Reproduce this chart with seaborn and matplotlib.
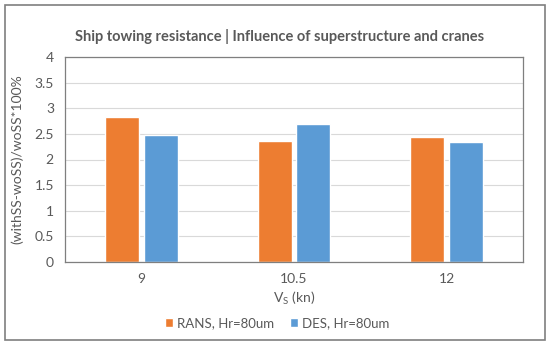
import pandas as pd
import numpy as np
import matplotlib.pyplot as plt
import seaborn as sns
from matplotlib.patches import Rectangle

# values
speeds = ['9', '10.5', '12']
rans = [2.82, 2.37, 2.43]
des = [2.48, 2.70, 2.34]
series_names = ['RANS, Hr=80um', 'DES, Hr=80um']
yticks = [0, 0.5, 1, 1.5, 2, 2.5, 3, 3.5, 4]

df = pd.DataFrame({
    'Vs': speeds * 2,
    'value': rans + des,
    'series': [series_names[0]] * 3 + [series_names[1]] * 3,
})

sns.set_style('white')
plt.rcParams['font.family'] = ['Lato', 'DejaVu Sans']
txt = '#595959'

fig = plt.figure(figsize=(5.5, 3.46), dpi=100)
ax = fig.add_axes([65 / 550, 1 - 262 / 346, 458 / 550, 205 / 346])

sns.barplot(data=df, x='Vs', y='value', hue='series', order=speeds,
            hue_order=series_names, palette=['#ED7D31', '#5B9BD5'],
            width=0.507, gap=0.12, saturation=1, ax=ax, legend=True)

ax.set_xlim(-0.5, 2.5)
ax.set_ylim(0, 4)
ax.set_yticks(yticks)
ax.set_yticklabels([f'{t:g}' for t in yticks])
ax.yaxis.grid(True, color='#D9D9D9', linewidth=0.8)
ax.set_axisbelow(True)
ax.tick_params(axis='both', length=0, labelsize=10, colors=txt, pad=8)
for s in ax.spines.values():
    s.set_color('#7F7F7F')
    s.set_linewidth(0.9)

ax.set_xlabel('V$_\\mathregular{S}$ (kn)', fontsize=10, color=txt, labelpad=3)
ax.set_ylabel('(withSS-woSS)/woSS*100%', fontsize=10, color=txt, labelpad=8)

fig.text(280 / 550, 1 - 36 / 346, 'Ship towing resistance | Influence of superstructure and cranes',
         ha='center', va='center', fontsize=10.5, fontweight='bold', color=txt)

ax.legend(loc='center', bbox_to_anchor=((277 - 65) / 458, (262 - 323) / 205),
          ncol=2, frameon=False, fontsize=9.5, handlelength=0.6, handleheight=0.6,
          handletextpad=0.3, columnspacing=1.2, labelcolor=txt)

# outer chart frame
fig.patches.append(Rectangle((5 / 550, 1 - 340 / 346), 540 / 550, 335 / 346,
                             transform=fig.transFigure, fill=False,
                             edgecolor='#7F7F7F', linewidth=1.2))

fig.savefig('out.png', dpi=100)
